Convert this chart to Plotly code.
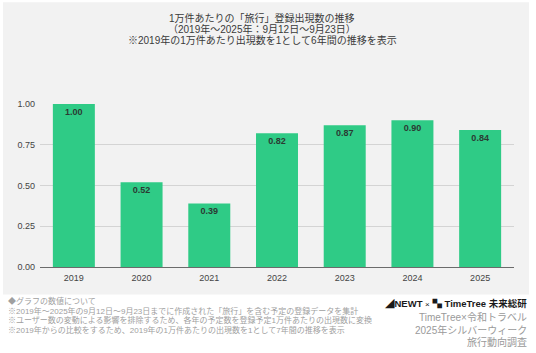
import plotly.graph_objects as go

years = ["2019", "2020", "2021", "2022", "2023", "2024", "2025"]
values = [1.00, 0.52, 0.39, 0.82, 0.87, 0.90, 0.84]
y_ticks = [0, 0.25, 0.5, 0.75, 1.0]
y_tick_labels = ["0.00", "0.25", "0.50", "0.75", "1.00"]

title_lines = [
    "1万件あたりの「旅行」登録出現数の推移",
    "（2019年～2025年：9月12日～9月23日）",
    "※2019年の1万件あたり出現数を1として6年間の推移を表示",
]
notes = [
    "◆グラフの数値について",
    "※2019年～2025年の9月12日～9月23日までに作成された「旅行」を含む予定の登録データを集計",
    "※ユーザー数の変動による影響を排除するため、各年の予定数を登録予定1万件あたりの出現数に変換",
    "※2019年からの比較をするため、2019年の1万件あたりの出現数を1として7年間の推移を表示",
]
source_lines = ["TimeTree×令和トラベル", "2025年シルバーウィーク", "旅行動向調査"]

W, H = 536, 353
L, R, T, B = 40, 22, 104, 85.5
pw, ph = W - L - R, H - T - B

def px(x):
    return (x - L) / pw

def py(y):
    return (H - B - y) / ph

FONT = "Liberation Sans, Arial, Noto Sans CJK JP, sans-serif"

fig = go.Figure()
fig.add_trace(go.Bar(
    x=years, y=values,
    marker=dict(color="#2fcb86", line=dict(width=0)),
    text=[f"<b>{v:.2f}</b>" for v in values],
    textposition="inside", insidetextanchor="end",
    textfont=dict(family=FONT, size=9, color="#2b3a33"),
    cliponaxis=False,
    hoverinfo="skip",
))

annotations = []
for i, line in enumerate(title_lines):
    annotations.append(dict(
        x=px(262), y=py(18 + i * 11), xref="paper", yref="paper",
        text=line, showarrow=False, xanchor="center", yanchor="middle",
        font=dict(family=FONT, size=10, color="#3a3a3a"),
    ))
for i, line in enumerate(notes):
    annotations.append(dict(
        x=px(6), y=py(302 + i * 9.4), xref="paper", yref="paper",
        text=line, showarrow=False, xanchor="left", yanchor="middle",
        font=dict(family=FONT, size=8, color="#a0a0a0"),
    ))
for i, line in enumerate(source_lines):
    annotations.append(dict(
        x=px(529), y=py(318 + i * 12.3), xref="paper", yref="paper",
        text=line, showarrow=False, xanchor="right", yanchor="middle",
        font=dict(family=FONT, size=10, color="#9a9a9a"),
    ))
annotations.append(dict(
    x=px(529), y=py(304), xref="paper", yref="paper",
    text="<b>◢NEWT</b> <span style='font-size:8px'>×</span> <b>▚ TimeTree 未来総研</b>",
    showarrow=False, xanchor="right", yanchor="middle",
    font=dict(family=FONT, size=9.5, color="#1a1a1a"),
))

fig.update_layout(
    width=W, height=H,
    margin=dict(l=L, r=R, t=T, b=B),
    paper_bgcolor="white",
    plot_bgcolor="rgba(0,0,0,0)",
    showlegend=False,
    bargap=0.38,
    font=dict(family=FONT),
    shapes=[dict(
        type="rect", xref="paper", yref="paper",
        x0=px(3), x1=px(529), y0=py(295), y1=py(2),
        fillcolor="#f2f2f2", line=dict(width=0), layer="below",
    )],
    annotations=annotations,
    xaxis=dict(
        showgrid=False, showline=True, linecolor="#6b6b6b", linewidth=1,
        tickfont=dict(family=FONT, size=9, color="#444444"),
        ticks="", ticklabelstandoff=2,
    ),
    yaxis=dict(
        range=[0, 1.0], tickvals=y_ticks, ticktext=y_tick_labels,
        showgrid=True, gridcolor="#d4d4d4", gridwidth=1,
        zeroline=False, showline=False,
        tickfont=dict(family=FONT, size=9, color="#444444"),
        ticks="", ticklabelstandoff=4,
    ),
)

fig.write_html("out.html")
